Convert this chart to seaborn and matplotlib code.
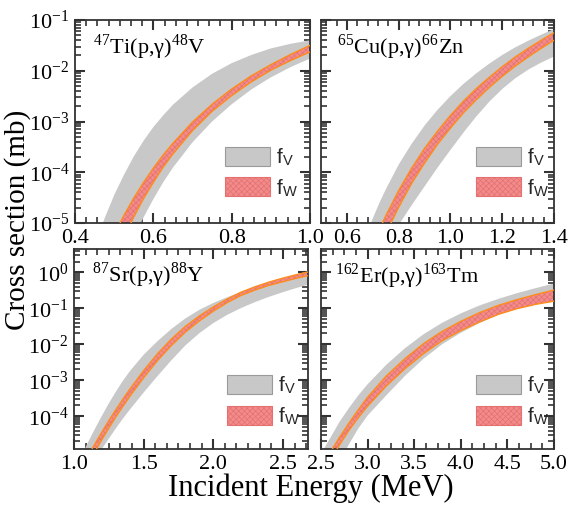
import numpy as np
import matplotlib
matplotlib.use("Agg")
import matplotlib.pyplot as plt
import seaborn as sns
from matplotlib.patches import Patch
from matplotlib.ticker import (LogLocator, MultipleLocator, AutoMinorLocator,
                               NullFormatter, FormatStrFormatter)

sns.set_theme(style="ticks")
plt.rcParams["font.family"] = ["Liberation Serif", "DejaVu Serif"]
plt.rcParams["mathtext.fontset"] = "stix"
plt.rcParams["hatch.linewidth"] = 0.5

# ---------------- data (log10 of cross section in mb) ----------------
# 47Ti(p,g)48V
ti_energy = [0.45, 0.475, 0.50, 0.525, 0.55, 0.575, 0.60, 0.625, 0.65, 0.70, 0.75, 0.80, 0.85, 0.90, 0.95, 1.00]
ti_fv_upper = [-5.47, -4.92, -4.45, -4.05, -3.69, -3.38, -3.11, -2.88, -2.67, -2.33, -2.06, -1.85, -1.69, -1.56, -1.47, -1.40]
ti_fv_lower = [-7.50, -6.84, -6.26, -5.74, -5.29, -4.89, -4.53, -4.20, -3.91, -3.41, -3.00, -2.66, -2.37, -2.13, -1.93, -1.76]
ti_fw_upper = [-6.14, -5.66, -5.23, -4.85, -4.51, -4.20, -3.92, -3.66, -3.43, -3.01, -2.66, -2.36, -2.10, -1.88, -1.68, -1.50]
ti_fw_lower = [-6.84, -6.26, -5.74, -5.29, -4.88, -4.52, -4.20, -3.90, -3.64, -3.18, -2.80, -2.49, -2.22, -1.99, -1.80, -1.63]

# 65Cu(p,g)66Zn
cu_energy = [0.65, 0.675, 0.70, 0.725, 0.75, 0.80, 0.85, 0.90, 0.95, 1.0, 1.05, 1.1, 1.15, 1.2, 1.25, 1.3, 1.35, 1.4]
cu_fv_upper = [-5.58, -5.23, -4.91, -4.61, -4.34, -3.85, -3.44, -3.08, -2.77, -2.50, -2.26, -2.05, -1.86, -1.69, -1.54, -1.41, -1.29, -1.18]
cu_fv_lower = [-6.70, -6.30, -5.91, -5.67, -5.45, -5.04, -4.65, -4.28, -3.91, -3.56, -3.22, -2.90, -2.61, -2.36, -2.15, -1.98, -1.84, -1.72]
cu_fw_upper = [-6.11, -5.76, -5.44, -5.14, -4.86, -4.36, -3.92, -3.53, -3.19, -2.88, -2.60, -2.35, -2.13, -1.92, -1.73, -1.56, -1.40, -1.25]
cu_fw_lower = [-6.52, -6.16, -5.82, -5.51, -5.21, -4.69, -4.22, -3.82, -3.45, -3.13, -2.83, -2.57, -2.33, -2.11, -1.91, -1.73, -1.56, -1.40]

# 87Sr(p,g)88Y
sr_energy = [1.05, 1.1, 1.15, 1.2, 1.25, 1.3, 1.35, 1.4, 1.5, 1.6, 1.7, 1.8, 1.9, 2.0, 2.1, 2.2, 2.3, 2.4, 2.5, 2.6, 2.68]
sr_fv_upper = [-5.13, -4.73, -4.35, -3.99, -3.64, -3.32, -3.02, -2.75, -2.29, -1.91, -1.57, -1.28, -1.04, -0.85, -0.69, -0.54, -0.39, -0.26, -0.15, -0.05, 0.03]
sr_fv_lower = [-5.84, -5.52, -5.21, -4.91, -4.62, -4.34, -4.07, -3.82, -3.34, -2.88, -2.44, -2.03, -1.69, -1.41, -1.18, -0.99, -0.825, -0.68, -0.55, -0.43, -0.34]
sr_fw_upper = [-5.47, -5.11, -4.77, -4.44, -4.12, -3.82, -3.53, -3.25, -2.73, -2.26, -1.85, -1.50, -1.21, -0.96, -0.74, -0.55, -0.40, -0.27, -0.16, -0.06, 0.01]
sr_fw_lower = [-5.69, -5.33, -4.99, -4.65, -4.33, -4.02, -3.73, -3.45, -2.93, -2.45, -2.03, -1.66, -1.35, -1.08, -0.84, -0.64, -0.49, -0.36, -0.26, -0.16, -0.09]

# 162Er(p,g)163Tm
er_energy = [2.5, 2.6, 2.7, 2.8, 2.9, 3.0, 3.2, 3.4, 3.6, 3.8, 4.0, 4.2, 4.4, 4.6, 4.8, 5.0]
er_fv_upper = [-5.05, -4.6, -4.15, -3.77, -3.42, -3.11, -2.57, -2.11, -1.72, -1.4, -1.14, -0.92, -0.74, -0.58, -0.44, -0.31]
er_fv_lower = [-6.3, -5.75, -5.25, -4.78, -4.34, -3.98, -3.42, -2.88, -2.4, -2.0, -1.68, -1.41, -1.18, -1.01, -0.89, -0.81]
er_fw_upper = [-5.45, -5.0, -4.58, -4.19, -3.82, -3.47, -2.88, -2.4, -1.98, -1.64, -1.36, -1.12, -0.92, -0.76, -0.62, -0.49]
er_fw_lower = [-5.7, -5.22, -4.79, -4.39, -4.04, -3.72, -3.16, -2.68, -2.26, -1.9, -1.62, -1.38, -1.17, -1.01, -0.89, -0.80]

reaction_labels = [r"$^{\mathregular{47}}$Ti(p,γ)$^{\mathregular{48}}$V",
                   r"$^{\mathregular{65}}$Cu(p,γ)$^{\mathregular{66}}$Zn",
                   r"$^{\mathregular{87}}$Sr(p,γ)$^{\mathregular{88}}$Y",
                   r"$^{\mathregular{162}}$Er(p,γ)$^{\mathregular{163}}$Tm"]
legend_labels = [r"f$_{\mathregular{V}}$", r"f$_{\mathregular{W}}$"]

# ---------------- styling ----------------
GRAY = "#c8c8c8"
RED_FACE = "#f28c8c"
RED_HATCH = "#e57070"
ORANGE = "#ff8c1a"
FRAME = "#333333"

W, H = 570, 508
fig = plt.figure(figsize=(W / 100, H / 100), dpi=100)
fig.patch.set_facecolor("white")

def rect(l, r, t, b):
    return [l / W, (H - b) / H, (r - l) / W, (b - t) / H]

panels = [
    dict(E=ti_energy, gu=ti_fv_upper, gl=ti_fv_lower, ru=ti_fw_upper, rl=ti_fw_lower,
         rect=rect(75, 310, 20, 223), xlim=(0.4, 1.0), major=0.2, minor=7,
         ylim=(1e-5, 1e-1), left=True, lab=reaction_labels[0], lab_xy=(0.075, 0.935),
         leg=(0.95, 0.12)),
    dict(E=cu_energy, gu=cu_fv_upper, gl=cu_fv_lower, ru=cu_fw_upper, rl=cu_fw_lower,
         rect=rect(321, 554, 20, 223), xlim=(0.5, 1.4), major=0.2, minor=5,
         ylim=(1e-5, 1e-1), left=False, lab=reaction_labels[1], lab_xy=(0.07, 0.935),
         leg=(0.98, 0.12)),
    dict(E=sr_energy, gu=sr_fv_upper, gl=sr_fv_lower, ru=sr_fw_upper, rl=sr_fw_lower,
         rect=rect(74, 308, 249, 449), xlim=(1.0, 2.68), major=0.5, minor=6,
         ylim=(10 ** -4.91, 10 ** 0.65), left=True, lab=reaction_labels[2], lab_xy=(0.075, 0.94),
         leg=(0.965, 0.11)),
    dict(E=er_energy, gu=er_fv_upper, gl=er_fv_lower, ru=er_fw_upper, rl=er_fw_lower,
         rect=rect(321, 554, 249, 449), xlim=(2.5, 5.0), major=0.5, minor=4,
         ylim=(10 ** -4.91, 10 ** 0.65), left=False, lab=reaction_labels[3], lab_xy=(0.06, 0.935),
         leg=(0.98, 0.11)),
]

for p in panels:
    ax = fig.add_axes(p["rect"])
    ax.set_yscale("log")
    E = np.asarray(p["E"])
    gu = 10.0 ** np.asarray(p["gu"])
    gl = 10.0 ** np.asarray(p["gl"])
    ru = 10.0 ** np.asarray(p["ru"])
    rl = 10.0 ** np.asarray(p["rl"])

    ax.fill_between(E, gl, gu, facecolor=GRAY, edgecolor="none", lw=0, zorder=1)
    ax.fill_between(E, rl, ru, facecolor=RED_FACE, edgecolor=RED_HATCH, hatch="xxxxxx",
                    lw=0, zorder=2)
    sns.lineplot(x=E, y=ru, color=ORANGE, lw=1.0, ax=ax, zorder=3, estimator=None)
    sns.lineplot(x=E, y=rl, color=ORANGE, lw=1.0, ax=ax, zorder=3, estimator=None)

    ax.set_xlim(*p["xlim"])
    ax.set_ylim(*p["ylim"])
    ax.set_xlabel("")
    ax.set_ylabel("")

    ax.xaxis.set_major_locator(MultipleLocator(p["major"]))
    ax.xaxis.set_minor_locator(AutoMinorLocator(p["minor"]))
    ax.xaxis.set_major_formatter(FormatStrFormatter("%.1f"))
    ax.yaxis.set_major_locator(LogLocator(base=10, numticks=20))
    ax.yaxis.set_minor_locator(LogLocator(base=10, subs=np.arange(2, 10), numticks=20))
    ax.yaxis.set_minor_formatter(NullFormatter())

    ax.tick_params(axis="both", which="both", direction="in", top=True, right=True,
                   color=FRAME, labelcolor="black", labelsize=16)
    ax.tick_params(axis="both", which="major", length=7, width=1.5, pad=4)
    ax.tick_params(axis="both", which="minor", length=4, width=1.2)
    if not p["left"]:
        ax.tick_params(labelleft=False)
    for s in ax.spines.values():
        s.set_color(FRAME)
        s.set_linewidth(1.3)

    ax.text(p["lab_xy"][0], p["lab_xy"][1], p["lab"], transform=ax.transAxes,
            ha="left", va="top", fontsize=16, color="black", zorder=5)

    handles = [Patch(facecolor=GRAY, edgecolor="#9a9a9a", lw=0.8),
               Patch(facecolor=RED_FACE, edgecolor=RED_HATCH, hatch="xxxxxx", lw=0.8)]
    ax.legend(handles, legend_labels, loc="lower right", bbox_to_anchor=p["leg"],
              bbox_transform=ax.transAxes, frameon=False,
              prop={"family": "Liberation Sans", "size": 15},
              handlelength=2.15, handleheight=1.03, handletextpad=0.3,
              labelspacing=0.43, borderpad=0, borderaxespad=0)

fig.text(0.03, 0.567, "Cross section (mb)", rotation=90, ha="center", va="center",
         fontsize=21, color="black")
fig.text(0.546, 0.038, "Incident Energy (MeV)", ha="center", va="center",
         fontsize=22, color="black")

fig.savefig("out.png", dpi=100, facecolor="white")
